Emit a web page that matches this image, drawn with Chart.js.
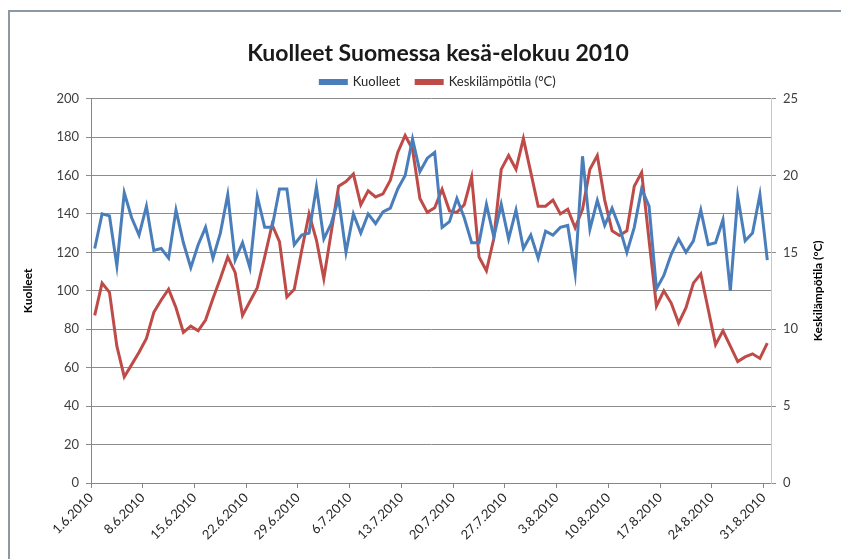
<!DOCTYPE html>
<html>
<head>
<meta charset="utf-8">
<script src="https://cdn.jsdelivr.net/npm/chart.js@4.4.1/dist/chart.umd.min.js"></script>
<style>
  html, body { margin: 0; padding: 0; background: #fff; }
  #wrap { width: 841px; height: 559px; position: relative; }
</style>
</head>
<body>
<div id="wrap"><canvas id="myChart" width="841" height="559"></canvas></div>
<script>
var chartTitle = 'Kuolleet Suomessa kesä-elokuu 2010';
var leftTitle = 'Kuolleet';
var rightTitle = 'Keskilämpötila (°C)';

// x axis labels, one every 7 days (day index from 1.6.2010)
var tickDays = [0, 7, 14, 21, 28, 35, 42, 49, 56, 63, 70, 77, 84, 91];
var tickLabels = ['1.6.2010', '8.6.2010', '15.6.2010', '22.6.2010', '29.6.2010', '6.7.2010', '13.7.2010',
                  '20.7.2010', '27.7.2010', '3.8.2010', '10.8.2010', '17.8.2010', '24.8.2010', '31.8.2010'];

// daily deaths 1.6. - 31.8.
var deaths = [122, 140, 139, 113, 151, 138, 129, 144, 121, 122, 117, 142, 125, 112, 124, 133, 117, 130, 150, 116,
              125, 112, 149, 133, 133, 153, 153, 124, 129, 130, 154, 127, 135, 148, 120, 140, 130, 140, 135, 141,
              143, 153, 160, 179, 162, 169, 172, 133, 136, 148, 138, 125, 125, 145, 128, 145, 127, 142, 122, 129,
              117, 131, 129, 133, 134, 109, 170, 132, 147, 134, 143, 133, 120, 133, 153, 144, 101, 108, 119, 127,
              120, 126, 142, 124, 125, 137, 100, 149, 126, 130, 150, 116];

// daily mean temperature (°C)
var temps = [10.9, 13.0, 12.4, 8.9, 6.9, 7.7, 8.5, 9.4, 11.1, 11.9, 12.6, 11.4, 9.8, 10.2, 9.9, 10.6, 12.0, 13.3, 14.7, 13.7,
             10.9, 11.8, 12.7, 14.7, 16.8, 15.7, 12.1, 12.6, 15.1, 17.5, 15.8, 13.3, 16.3, 19.3, 19.6, 20.1, 18.1, 19.0, 18.6, 18.8,
             19.7, 21.5, 22.6, 21.7, 18.5, 17.6, 17.9, 19.1, 17.7, 17.6, 18.1, 19.9, 14.7, 13.8, 15.9, 20.4, 21.3, 20.4, 22.4, 20.2,
             18.0, 18.0, 18.4, 17.5, 17.8, 16.6, 17.8, 20.4, 21.3, 18.4, 16.4, 16.1, 16.4, 19.3, 20.2, 15.8, 11.5, 12.5, 11.7, 10.4,
             11.4, 13.0, 13.6, 11.3, 9.0, 9.9, 8.9, 7.9, 8.2, 8.4, 8.1, 9.1];

var FONT = 'Lato, "Open Sans", sans-serif';
var dayCount = deaths.length;

// each day sits in the middle of its slot on the date axis
function toPoints(arr){
  return arr.map(function(v, i){ return {x: i + 0.5, y: v}; });
}

var framePlugin = {
  id: 'framePlugin',
  beforeDraw: function(chart){
    var c = chart.ctx;
    c.save();
    c.strokeStyle = '#8e98a4';
    c.lineWidth = 2;
    c.strokeRect(9, 11, 900, 600);
    c.restore();
  },
  afterDraw: function(chart){
    var c = chart.ctx;
    var a = chart.chartArea;
    var mid = (a.top + a.bottom) / 2;
    c.save();
    c.font = 'bold 12px ' + FONT;
    c.fillStyle = '#000';
    c.textAlign = 'center';
    c.textBaseline = 'middle';
    c.save();
    c.translate(28, mid);
    c.rotate(-Math.PI / 2);
    c.fillText(leftTitle, 0, 0);
    c.restore();
    c.save();
    c.translate(818, mid);
    c.rotate(-Math.PI / 2);
    c.fillText(rightTitle, 0, 0);
    c.restore();
    c.restore();
  }
};

var ctx = document.getElementById('myChart').getContext('2d');
var myChart = new Chart(ctx, {
  type: 'line',
  data: {
    datasets: [{
      label: 'Kuolleet',
      data: toPoints(deaths),
      yAxisID: 'y',
      borderColor: '#4a7ebb',
      backgroundColor: '#4a7ebb',
      borderWidth: 3,
      pointRadius: 0,
      fill: false,
      tension: 0
    }, {
      label: 'Keskilämpötila (°C)',
      data: toPoints(temps),
      yAxisID: 'y1',
      borderColor: '#be4b48',
      backgroundColor: '#be4b48',
      borderWidth: 3,
      pointRadius: 0,
      fill: false,
      tension: 0
    }]
  },
  options: {
    responsive: false,
    animation: false,
    layout: { padding: { left: 35, right: 0, top: 40, bottom: 0 } },
    plugins: {
      title: {
        display: true,
        text: chartTitle,
        color: '#1a1a1a',
        font: { family: FONT, size: 23, weight: 'bold' },
        padding: { top: 0, bottom: -8 }
      },
      legend: {
        display: true,
        labels: {
          boxWidth: 26,
          boxHeight: 3,
          padding: 16,
          color: '#262626',
          font: { family: FONT, size: 13 }
        }
      },
      tooltip: { enabled: false }
    },
    scales: {
      x: {
        type: 'linear',
        min: 0,
        max: dayCount,
        afterBuildTicks: function(s){ s.ticks = tickDays.map(function(v){ return {value: v}; }); },
        afterFit: function(s){ s.height = 76; },
        grid: { drawOnChartArea: false, drawTicks: true, tickLength: 5, color: '#868686' },
        border: { color: '#868686' },
        ticks: {
          autoSkip: false,
          maxRotation: 45,
          minRotation: 45,
          padding: 2,
          color: '#262626',
          font: { family: FONT, size: 13 },
          callback: function(v){ return tickLabels[tickDays.indexOf(v)]; }
        }
      },
      y: {
        position: 'left',
        min: 0,
        max: 200,
        afterFit: function(s){ s.width = 56; },
        grid: { color: '#8c8c8c', tickLength: 5 },
        border: { color: '#868686' },
        ticks: { stepSize: 20, padding: 7, color: '#404040', font: { family: FONT, size: 13 } }
      },
      y1: {
        position: 'right',
        min: 0,
        max: 25,
        afterFit: function(s){ s.width = 70; },
        grid: { drawOnChartArea: false, color: '#8c8c8c', tickLength: 5 },
        border: { color: '#c8c8c8' },
        ticks: { stepSize: 5, padding: 7, color: '#404040', font: { family: FONT, size: 13 } }
      }
    }
  },
  plugins: [framePlugin]
});
</script>
</body>
</html>
